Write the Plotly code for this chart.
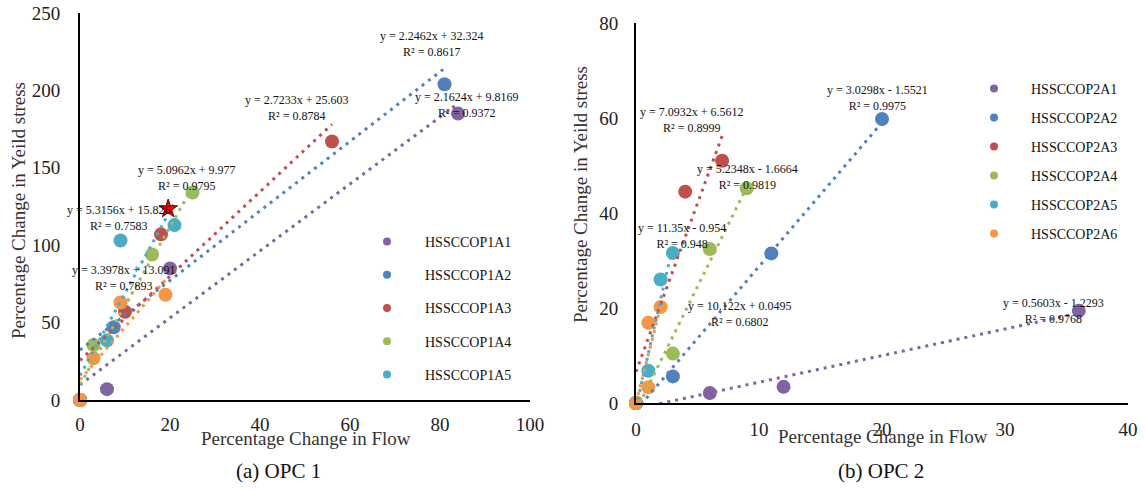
import numpy as np
import plotly.graph_objects as go

W, H = 1145, 492

colors = ["#8064A2", "#4F81BD", "#C0504D", "#9BBB59", "#4BACC6", "#F79646"]

# ---------- OPC 1 data ----------
opc1_names = ["HSSCCOP1A1", "HSSCCOP1A2", "HSSCCOP1A3", "HSSCCOP1A4", "HSSCCOP1A5", "HSSCCOP1A6"]
opc1_x = [
    [0, 6, 20, 84],
    [0, 7.5, 81],
    [0, 10, 18, 56],
    [0, 3, 16, 25],
    [0, 6, 9, 21],
    [0, 3, 9, 19],
]
opc1_y = [
    [0, 7, 85, 185],
    [0, 47, 204],
    [0, 57, 107, 167],
    [0, 35.5, 94, 134],
    [0, 38.5, 103, 113],
    [0, 27, 63, 68],
]
opc1_slope = [2.1624, 2.2462, 2.7233, 5.0962, 5.3156, 3.3978]
opc1_icpt = [9.8169, 32.324, 25.603, 9.977, 15.826, 13.091]
opc1_eq = ["y = 2.1624x + 9.8169<br>R² = 0.9372",
           "y = 2.2462x + 32.324<br>R² = 0.8617",
           "y = 2.7233x + 25.603<br>R² = 0.8784",
           "y = 5.0962x + 9.977<br>R² = 0.9795",
           "y = 5.3156x + 15.826<br>R² = 0.7583",
           "y = 3.3978x + 13.091<br>R² = 0.7893"]
opc1_star_x = [19.6]
opc1_star_y = [123.5]
opc1_legend_count = 5

# ---------- OPC 2 data ----------
opc2_names = ["HSSCCOP2A1", "HSSCCOP2A2", "HSSCCOP2A3", "HSSCCOP2A4", "HSSCCOP2A5", "HSSCCOP2A6"]
opc2_x = [
    [0, 6, 12, 36],
    [0, 3, 11, 20],
    [0, 4, 7],
    [0, 3, 6, 9],
    [0, 1, 2, 3],
    [0, 1, 1, 2],
]
opc2_y = [
    [0, 2.1, 3.4, 19.4],
    [0, 5.6, 31.5, 59.8],
    [0, 44.5, 51],
    [0, 10.4, 32.4, 45.2],
    [0, 6.8, 26, 31.6],
    [0, 3.3, 16.9, 20.2],
]
opc2_slope = [0.5603, 3.0298, 7.0932, 5.2348, 11.35, 10.122]
opc2_icpt = [-1.2293, -1.5521, 6.5612, -1.6664, -0.954, 0.0495]
opc2_eq = ["y = 0.5603x - 1.2293<br>R² = 0.9768",
           "y = 3.0298x - 1.5521<br>R² = 0.9975",
           "y = 7.0932x + 6.5612<br>R² = 0.8999",
           "y = 5.2348x - 1.6664<br>R² = 0.9819",
           "y = 11.35x - 0.954<br>R² = 0.948",
           "y = 10.122x + 0.0495<br>R² = 0.6802"]

# label positions (pixels in the 1145x492 canvas)
opc1_eq_pos = [(467, 105), (432, 44), (297, 108), (187, 178), (119, 218), (124, 278)]
opc2_eq_pos = [(1053, 311), (877, 98), (692, 120), (747, 177), (682, 236), (740, 314)]

FONT = "Liberation Serif, Times New Roman, serif"

# axes geometry (pixels)
L1 = dict(x0=80, x1=530, y0=400, y1=13)
L2 = dict(x0=636, x1=1128, y0=403, y1=23)


def px(x):
    return x / W


def py(y):
    return 1 - y / H


fig = go.Figure()


def add_panel(xs, ys, slopes, icpts, names, n_leg, xa, ya, legend):
    # markers
    for i in range(len(xs)):
        fig.add_trace(go.Scatter(
            x=xs[i], y=ys[i], mode="markers", xaxis=xa, yaxis=ya,
            marker=dict(color=colors[i], size=14, line=dict(width=0)),
            showlegend=False, cliponaxis=False, hoverinfo="x+y"))
    # trendlines
    for i in range(len(xs)):
        tx = np.array([0, max(xs[i])], dtype=float)
        ty = slopes[i] * tx + icpts[i]
        fig.add_trace(go.Scatter(
            x=tx, y=ty, mode="lines", xaxis=xa, yaxis=ya,
            line=dict(color=colors[i], width=3, dash="3px,5px"),
            showlegend=False, hoverinfo="skip"))
    # legend entries
    for i in range(n_leg):
        fig.add_trace(go.Scatter(
            x=[None], y=[None], mode="markers", xaxis=xa, yaxis=ya,
            marker=dict(color=colors[i], size=8),
            name=names[i], legend=legend, legendgroup=names[i], showlegend=True))


add_panel(opc1_x, opc1_y, opc1_slope, opc1_icpt, opc1_names, opc1_legend_count, "x", "y", "legend")
fig.add_trace(go.Scatter(
    x=opc1_star_x, y=opc1_star_y, mode="markers", xaxis="x", yaxis="y",
    marker=dict(color="#FF0000", size=14, symbol="star", line=dict(color="#600000", width=1)),
    showlegend=False, cliponaxis=False))
add_panel(opc2_x, opc2_y, opc2_slope, opc2_icpt, opc2_names, len(opc2_names), "x2", "y2", "legend2")

axis_common = dict(showline=True, linecolor="black", linewidth=2, showgrid=False,
                   zeroline=False, ticks="", tickfont=dict(family=FONT, size=19, color="#222"),
                   fixedrange=True, automargin=False)

fig.update_layout(
    width=W, height=H, margin=dict(l=0, r=0, t=0, b=0, pad=0, autoexpand=False),
    paper_bgcolor="white", plot_bgcolor="white",
    font=dict(family=FONT, color="#222"),
    xaxis=dict(domain=[px(L1["x0"]), px(L1["x1"])], range=[0, 100], dtick=20,
               anchor="y", ticklabelstandoff=6, **axis_common),
    yaxis=dict(domain=[py(L1["y0"]), py(L1["y1"])], range=[0, 250], dtick=50,
               anchor="x", ticklabelstandoff=14, **axis_common),
    xaxis2=dict(domain=[px(L2["x0"]), px(L2["x1"])], range=[0, 40], dtick=10,
                anchor="y2", ticklabelstandoff=8, **axis_common),
    yaxis2=dict(domain=[py(L2["y0"]), py(L2["y1"])], range=[0, 80], dtick=20,
                anchor="x2", ticklabelstandoff=12, **axis_common),
    legend=dict(x=px(349), y=py(226), xanchor="left", yanchor="top",
                font=dict(family=FONT, size=14, color="#111"), itemwidth=66,
                tracegroupgap=12, bgcolor="rgba(0,0,0,0)"),
    legend2=dict(x=px(957), y=py(73), xanchor="left", yanchor="top",
                 font=dict(family=FONT, size=14, color="#111"), itemwidth=64,
                 tracegroupgap=7.8, bgcolor="rgba(0,0,0,0)"),
    showlegend=True,
)

annotations = []


def eq_annots(eqs, pos, L, xr, yr, xref, yref):
    for t, (ex, ey) in zip(eqs, pos):
        dx = xr[0] + (ex - L["x0"]) / (L["x1"] - L["x0"]) * (xr[1] - xr[0])
        dy = yr[0] + (L["y0"] - ey) / (L["y0"] - L["y1"]) * (yr[1] - yr[0])
        annotations.append(dict(x=dx, y=dy, xref=xref, yref=yref, text=t, showarrow=False,
                                font=dict(family=FONT, size=12, color="#111"),
                                align="center", xanchor="center", yanchor="middle"))


eq_annots(opc1_eq, opc1_eq_pos, L1, [0, 100], [0, 250], "x", "y")
eq_annots(opc2_eq, opc2_eq_pos, L2, [0, 40], [0, 80], "x2", "y2")

title_font = dict(family=FONT, size=19, color="#333")
for txt, x, y, ang in [("Percentage Change in Yeild stress", 18, 211, -90),
                       ("Percentage Change in Yeild stress", 580, 195, -90),
                       ("Percentage Change in Flow", 306, 438, 0),
                       ("Percentage Change in Flow", 883, 436, 0)]:
    annotations.append(dict(x=px(x), y=py(y), xref="paper", yref="paper", text=txt,
                            showarrow=False, textangle=ang, font=title_font,
                            xanchor="center", yanchor="middle"))

for txt, x, y in [("(a) OPC 1", 278, 471), ("(b) OPC 2", 881, 471)]:
    annotations.append(dict(x=px(x), y=py(y), xref="paper", yref="paper", text=txt,
                            showarrow=False, font=dict(family=FONT, size=21, color="#111"),
                            xanchor="center", yanchor="middle"))

fig.update_layout(annotations=annotations)

fig.write_html("out.html")
